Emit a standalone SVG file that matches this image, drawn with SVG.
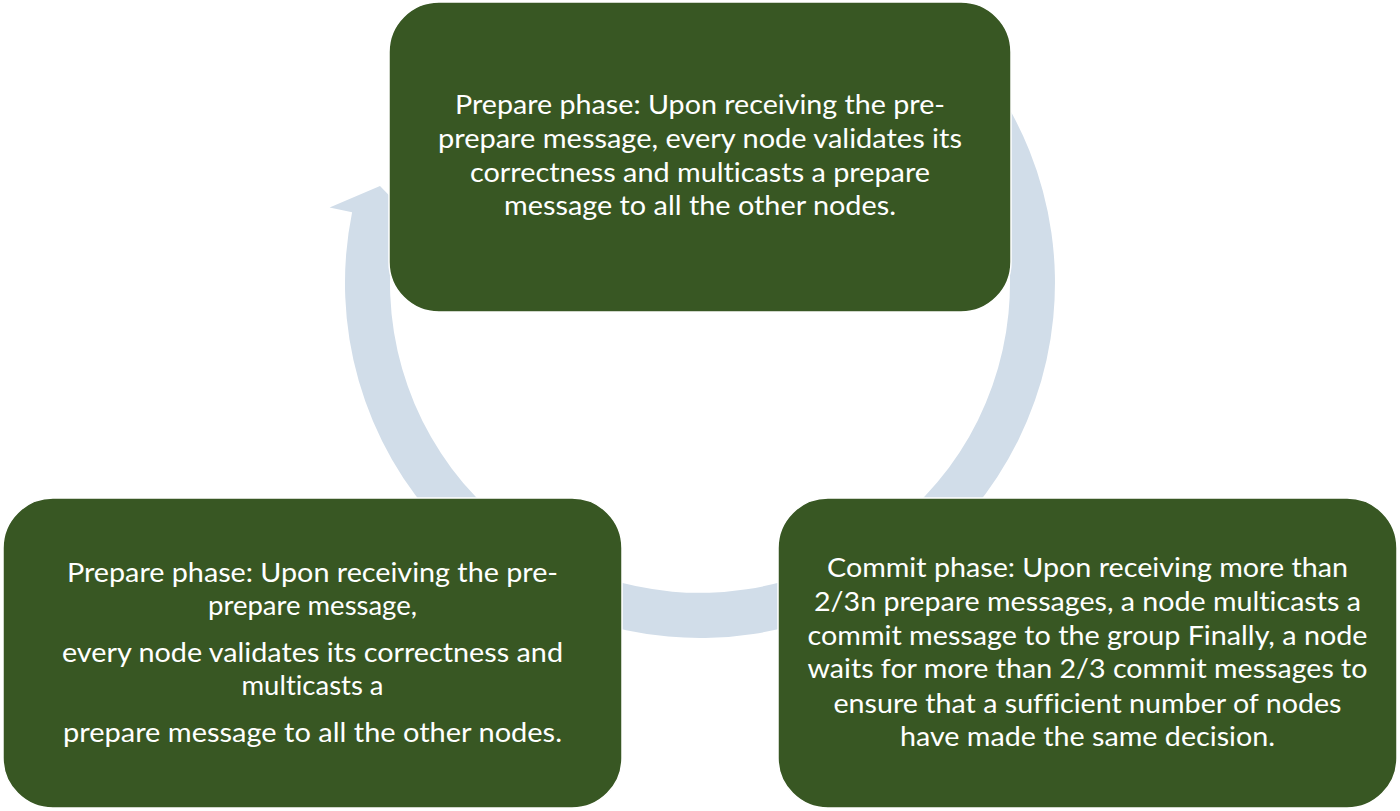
<svg xmlns="http://www.w3.org/2000/svg" width="1400" height="811" viewBox="0 0 1400 811">
<style>
.box{fill:#385723;stroke:#ffffff;stroke-width:1.5}
.ring{fill:#D1DDE9;stroke:none}
.t{font-family:Lato,"Open Sans","Liberation Sans",sans-serif;font-size:27.5px;fill:#ffffff;text-anchor:middle;font-variant-ligatures:none}
</style>
<rect width="1400" height="811" fill="#ffffff"/>
<g id="connectors">
<path class="ring" d="M1011.1,112 A355,355 0 1 1 352.1,212.2 L329.6,207.6 L380,186 L418.8,225.8 L396.2,221.2 A310,310 0 1 0 971.7,133.6 Z"/>
</g>
<g id="node-prepare-top">
<rect class="box" x="389" y="2" width="622" height="310" rx="50" ry="50"/>
<text class="t" x="700" y="114.3" textLength="490" lengthAdjust="spacingAndGlyphs">Prepare phase: Upon receiving the pre-</text>
<text class="t" x="700" y="147.7" textLength="524" lengthAdjust="spacingAndGlyphs">prepare message, every node validates its</text>
<text class="t" x="700" y="181.5" textLength="460" lengthAdjust="spacingAndGlyphs">correctness and multicasts a prepare</text>
<text class="t" x="700" y="214.5" textLength="392" lengthAdjust="spacingAndGlyphs">message to all the other nodes.</text>
</g>
<g id="node-prepare-left">
<rect class="box" x="3" y="498" width="619" height="310" rx="50" ry="50"/>
<text class="t" x="312.5" y="581.7" textLength="491" lengthAdjust="spacingAndGlyphs">Prepare phase: Upon receiving the pre-</text>
<text class="t" x="312.5" y="615">prepare message,</text>
<text class="t" x="312.5" y="662.3" textLength="501" lengthAdjust="spacingAndGlyphs">every node validates its correctness and</text>
<text class="t" x="312.5" y="695">multicasts a</text>
<text class="t" x="312.5" y="741.7" textLength="499" lengthAdjust="spacingAndGlyphs">prepare message to all the other nodes.</text>
</g>
<g id="node-commit">
<rect class="box" x="778" y="498" width="619" height="310" rx="50" ry="50"/>
<text class="t" x="1087.5" y="576.7" textLength="521" lengthAdjust="spacingAndGlyphs">Commit phase: Upon receiving more than</text>
<text class="t" x="1087.5" y="611" textLength="547" lengthAdjust="spacingAndGlyphs">2/3n prepare messages, a node multicasts a</text>
<text class="t" x="1087.5" y="644.5" textLength="560" lengthAdjust="spacingAndGlyphs">commit message to the group Finally, a node</text>
<text class="t" x="1087.5" y="678.3" textLength="560" lengthAdjust="spacingAndGlyphs">waits for more than 2/3 commit messages to</text>
<text class="t" x="1087.5" y="712.7" textLength="508" lengthAdjust="spacingAndGlyphs">ensure that a sufficient number of nodes</text>
<text class="t" x="1087.5" y="746" textLength="375" lengthAdjust="spacingAndGlyphs">have made the same decision.</text>
</g>
</svg>
